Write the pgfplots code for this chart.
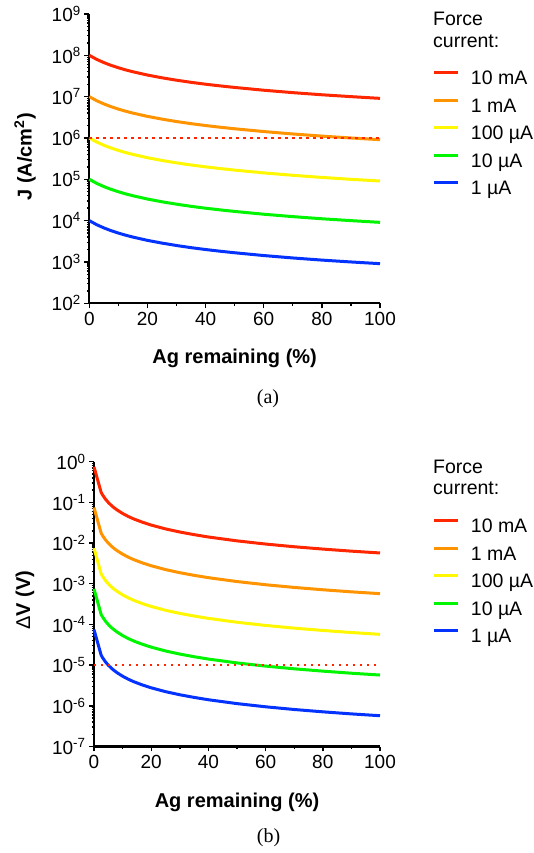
\documentclass[border=0pt]{standalone}
\usepackage{fontspec}
\setmainfont{Liberation Sans}
\newfontfamily\capfont{Liberation Serif}
\usepackage{pgfplots}
\usepackage{pgfplotstable}
\pgfplotsset{compat=1.18}

\definecolor{cred}{RGB}{255,38,0}
\definecolor{corange}{RGB}{255,147,0}
\definecolor{cyellow}{RGB}{255,248,0}
\definecolor{cgreen}{RGB}{0,245,0}
\definecolor{cblue}{RGB}{4,51,255}

% J (A/cm^2) vs Ag remaining
\pgfplotstableread{
x    a       b       c       d       e
0    1.0e8   1.0e7   1.0e6   1.0e5   1.0e4
2.5  8.0e7   8.0e6   8.0e5   8.0e4   8.0e3
5    6.67e7  6.67e6  6.67e5  6.67e4  6.67e3
7.5  5.71e7  5.71e6  5.71e5  5.71e4  5.71e3
10   5.0e7   5.0e6   5.0e5   5.0e4   5.0e3
12.5 4.44e7  4.44e6  4.44e5  4.44e4  4.44e3
15   4.0e7   4.0e6   4.0e5   4.0e4   4.0e3
20   3.33e7  3.33e6  3.33e5  3.33e4  3.33e3
25   2.86e7  2.86e6  2.86e5  2.86e4  2.86e3
30   2.5e7   2.5e6   2.5e5   2.5e4   2.5e3
35   2.22e7  2.22e6  2.22e5  2.22e4  2.22e3
40   2.0e7   2.0e6   2.0e5   2.0e4   2.0e3
45   1.82e7  1.82e6  1.82e5  1.82e4  1.82e3
50   1.67e7  1.67e6  1.67e5  1.67e4  1.67e3
60   1.43e7  1.43e6  1.43e5  1.43e4  1.43e3
70   1.25e7  1.25e6  1.25e5  1.25e4  1.25e3
80   1.11e7  1.11e6  1.11e5  1.11e4  1.11e3
90   1.0e7   1.0e6   1.0e5   1.0e4   1.0e3
100  9.09e6  9.09e5  9.09e4  9.09e3  9.09e2
}\tabA

% Delta V (V) vs Ag remaining
\pgfplotstableread{
x    a         b         c         d         e
0    7.47e-1   7.47e-2   7.47e-3   7.47e-4   7.47e-5
2.5  1.758e-1  1.758e-2  1.758e-3  1.758e-4  1.758e-5
3    1.525e-1  1.525e-2  1.525e-3  1.525e-4  1.525e-5
4    1.205e-1  1.205e-2  1.205e-3  1.205e-4  1.205e-5
5    9.97e-2   9.97e-3   9.97e-4   9.97e-5   9.97e-6
6    8.49e-2   8.49e-3   8.49e-4   8.49e-5   8.49e-6
7    7.40e-2   7.40e-3   7.40e-4   7.40e-5   7.40e-6
8    6.56e-2   6.56e-3   6.56e-4   6.56e-5   6.56e-6
10   5.34e-2   5.34e-3   5.34e-4   5.34e-5   5.34e-6
12   4.50e-2   4.50e-3   4.50e-4   4.50e-5   4.50e-6
14   3.89e-2   3.89e-3   3.89e-4   3.89e-5   3.89e-6
17   3.24e-2   3.24e-3   3.24e-4   3.24e-5   3.24e-6
20   2.77e-2   2.77e-3   2.77e-4   2.77e-5   2.77e-6
25   2.23e-2   2.23e-3   2.23e-4   2.23e-5   2.23e-6
30   1.87e-2   1.87e-3   1.87e-4   1.87e-5   1.87e-6
35   1.61e-2   1.61e-3   1.61e-4   1.61e-5   1.61e-6
40   1.41e-2   1.41e-3   1.41e-4   1.41e-5   1.41e-6
50   1.133e-2  1.133e-3  1.133e-4  1.133e-5  1.133e-6
60   9.46e-3   9.46e-4   9.46e-5   9.46e-6   9.46e-7
70   8.12e-3   8.12e-4   8.12e-5   8.12e-6   8.12e-7
80   7.12e-3   7.12e-4   7.12e-5   7.12e-6   7.12e-7
90   6.33e-3   6.33e-4   6.33e-5   6.33e-6   6.33e-7
100  5.71e-3   5.71e-4   5.71e-5   5.71e-6   5.71e-7
}\tabB

\pgfplotsset{
  scale only axis,
  xmin=0, xmax=100,
  axis lines*=left,
  axis line style={line width=2.2pt, black},
  tick style={line width=1.4pt, black},
  tick align=outside,
  major tick length=5pt,
  minor tick length=2.5pt,
  xtick={0,20,40,60,80,100},
  minor xtick={10,30,50,70,90},
  /pgf/number format/assume math mode=true,
  tick label style={font=\fontsize{19}{22}\selectfont},
  label style={font=\fontsize{20}{24}\selectfont\bfseries},
  clip=false,
  every axis plot/.append style={line width=3pt},
  legend cell align=left,
  legend image code/.code={\path (0pt,0pt); \draw[#1, line width=3pt] (0pt,7pt) -- (24pt,7pt);},
  legend style={draw=none, fill=none, anchor=north west,
    inner sep=0pt, outer sep=0pt,
    column sep=11pt, row sep=9.5pt,
    font=\fontsize{19.5}{22}\selectfont,
    nodes={inner sep=0pt, outer sep=0pt, text height=14pt, text depth=4pt}},
}
\tikzset{dotline/.style={cred, line width=2.3pt, dash pattern=on 2.3pt off 4.7pt}}

\begin{document}
\begin{tikzpicture}
\useasboundingbox (0,0) rectangle (533pt,853pt);

% ---------------- (a) ----------------
\begin{axis}[
  at={(89.3pt,549.7pt)}, anchor=south west,
  width=290.7pt, height=289.3pt,
  ymode=log,
  ymin=1e2, ymax=1e9,
  ytick={1e2,1e3,1e4,1e5,1e6,1e7,1e8,1e9},
  yticklabels={10\textsuperscript{2},10\textsuperscript{3},10\textsuperscript{4},10\textsuperscript{5},10\textsuperscript{6},10\textsuperscript{7},10\textsuperscript{8},10\textsuperscript{9}},
  minor ytick={2e2,3e2,4e2,5e2,6e2,7e2,8e2,9e2,2e3,3e3,4e3,5e3,6e3,7e3,8e3,9e3,2e4,3e4,4e4,5e4,6e4,7e4,8e4,9e4,2e5,3e5,4e5,5e5,6e5,7e5,8e5,9e5,2e6,3e6,4e6,5e6,6e6,7e6,8e6,9e6,2e7,3e7,4e7,5e7,6e7,7e7,8e7,9e7,2e8,3e8,4e8,5e8,6e8,7e8,8e8,9e8},
  xlabel={Ag remaining (\%)},
  ylabel={J (A/cm\textsuperscript{2})},
  xlabel style={at={(axis description cs:0.5,-0.2098)}, anchor=base},
  ylabel style={at={(axis description cs:-0.221,0.506)}, anchor=center},
  legend style={at={(1.1823,0.803)}},
]
\addplot[cred] table[x=x,y=a] {\tabA};
\addlegendentry{10 mA}
\addplot[corange] table[x=x,y=b] {\tabA};
\addlegendentry{1 mA}
\addplot[cyellow] table[x=x,y=c] {\tabA};
\addlegendentry{100 µA}
\addplot[cgreen] table[x=x,y=d] {\tabA};
\addlegendentry{10 µA}
\addplot[cblue] table[x=x,y=e] {\tabA};
\addlegendentry{1 µA}
\addplot[dotline, forget plot] coordinates {(0,1e6) (100,1e6)};
\end{axis}
\node[anchor=base west, font=\fontsize{19.5}{22}\selectfont, inner sep=0pt] at (433pt,827pt) {Force};
\node[anchor=base west, font=\fontsize{19.5}{22}\selectfont, inner sep=0pt] at (433pt,805pt) {current:};
\node[font=\capfont\fontsize{20}{24}\selectfont] at (268pt,454pt) {(a)};

% ---------------- (b) ----------------
\begin{axis}[
  at={(94pt,106.5pt)}, anchor=south west,
  width=286pt, height=284.8pt,
  ymode=log,
  ymin=1e-7, ymax=1e0,
  ytick={1e-7,1e-6,1e-5,1e-4,1e-3,1e-2,1e-1,1e0},
  yticklabels={10\textsuperscript{-7},10\textsuperscript{-6},10\textsuperscript{-5},10\textsuperscript{-4},10\textsuperscript{-3},10\textsuperscript{-2},10\textsuperscript{-1},10\textsuperscript{0}},
  minor ytick={2e-7,3e-7,4e-7,5e-7,6e-7,7e-7,8e-7,9e-7,2e-6,3e-6,4e-6,5e-6,6e-6,7e-6,8e-6,9e-6,2e-5,3e-5,4e-5,5e-5,6e-5,7e-5,8e-5,9e-5,2e-4,3e-4,4e-4,5e-4,6e-4,7e-4,8e-4,9e-4,2e-3,3e-3,4e-3,5e-3,6e-3,7e-3,8e-3,9e-3,2e-2,3e-2,4e-2,5e-2,6e-2,7e-2,8e-2,9e-2,2e-1,3e-1,4e-1,5e-1,6e-1,7e-1,8e-1,9e-1},
  xlabel={Ag remaining (\%)},
  ylabel={{\mdseries Δ}V (V)},
  xlabel style={at={(axis description cs:0.5,-0.215)}, anchor=base},
  ylabel style={at={(axis description cs:-0.241,0.513)}, anchor=center},
  legend style={at={(1.185,0.800)}},
]
\addplot[cred] table[x=x,y=a] {\tabB};
\addlegendentry{10 mA}
\addplot[corange] table[x=x,y=b] {\tabB};
\addlegendentry{1 mA}
\addplot[cyellow] table[x=x,y=c] {\tabB};
\addlegendentry{100 µA}
\addplot[cgreen] table[x=x,y=d] {\tabB};
\addlegendentry{10 µA}
\addplot[cblue] table[x=x,y=e] {\tabB};
\addlegendentry{1 µA}
\addplot[dotline, forget plot] coordinates {(0,1e-5) (100,1e-5)};
\end{axis}
\node[anchor=base west, font=\fontsize{19.5}{22}\selectfont, inner sep=0pt] at (433pt,379.7pt) {Force};
\node[anchor=base west, font=\fontsize{19.5}{22}\selectfont, inner sep=0pt] at (433pt,358pt) {current:};
\node[font=\capfont\fontsize{20}{24}\selectfont] at (268.5pt,15pt) {(b)};
\end{tikzpicture}
\end{document}
